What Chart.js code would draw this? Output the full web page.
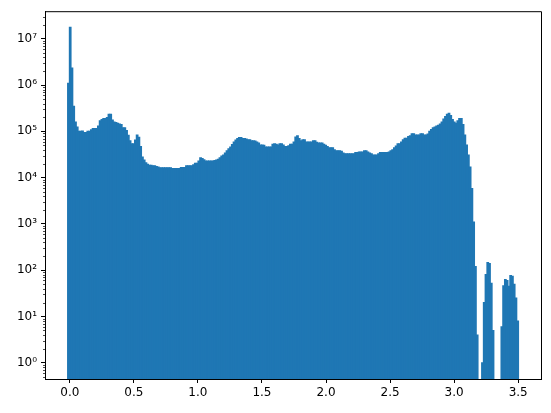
<!DOCTYPE html>
<html>
<head>
<meta charset="utf-8">
<script src="https://cdn.jsdelivr.net/npm/chart.js@4.4.0/dist/chart.umd.min.js"></script>
<style>
  html, body { margin: 0; padding: 0; background: #fff; }
  #wrap { width: 551px; height: 413px; }
</style>
</head>
<body>
<div id="wrap"><canvas id="histChart" width="551" height="413"></canvas></div>
<script>
// Histogram bins: left edge of the first bin and the bin width
const binStart = -0.0175;
const binWidth = 0.013752;

// Counts per bin (256 bins)
const counts = [
  1100000, 17800000, 2350000, 350000, 160000, 125000, 100000, 100000, 102000, 95000, 95000, 100000, 100000, 108000, 115000, 115000,
  115000, 130000, 170000, 180000, 190000, 190000, 200000, 235000, 235000, 175000, 160000, 155000, 150000, 145000, 140000, 120000,
  120000, 105000, 82000, 63000, 54000, 54000, 65000, 83000, 75000, 47000, 28000, 24000, 21000, 19500, 18500, 18500,
  18000, 18000, 17500, 17000, 16300, 16300, 16300, 16300, 16300, 16300, 16300, 15700, 15700, 15700, 15700, 15700,
  16500, 16500, 16500, 18000, 18000, 18000, 18000, 19000, 20500, 20500, 23000, 27000, 26000, 24500, 23000, 23000,
  23000, 23000, 23000, 23500, 24000, 25000, 27000, 29500, 31000, 34000, 38000, 42000, 46000, 52000, 59000, 65000,
  70000, 74000, 74000, 70000, 70000, 68000, 66000, 66000, 63000, 63000, 62000, 59000, 56000, 51000, 51000, 50000,
  46000, 46000, 46000, 46000, 53000, 54000, 53000, 51000, 54000, 54000, 51000, 47000, 47000, 49000, 53000, 53000,
  59000, 76000, 80000, 70000, 63000, 66000, 66000, 59000, 59000, 59000, 59000, 63000, 63000, 58000, 56000, 56000,
  56000, 53000, 50000, 47000, 44000, 44000, 44000, 40000, 38000, 38000, 38000, 37000, 34000, 33000, 33000, 33000,
  33000, 33000, 33000, 35000, 35000, 36000, 36000, 36000, 38000, 38000, 36000, 34000, 33000, 31000, 31000, 31000,
  33000, 35000, 35000, 35000, 35000, 35000, 36000, 38000, 40000, 44000, 48000, 54000, 54000, 59000, 66000, 71000,
  71000, 77000, 80000, 89000, 89000, 83000, 84000, 84000, 89000, 89000, 84000, 84000, 88000, 100000, 110000, 120000,
  125000, 130000, 135000, 145000, 160000, 185000, 210000, 235000, 245000, 220000, 180000, 160000, 150000, 170000, 190000, 190000,
  140000, 84000, 51000, 31000, 17000, 5800, 1100, 120, 4, 0, 0, 1, 20, 81, 147, 140,
  52, 5, 0, 0, 0, 0, 6, 46, 63, 60, 45, 77, 74, 50, 25, 8
];

const xTicks = [0, 0.5, 1, 1.5, 2, 2.5, 3, 3.5];
const yDecades = [0, 1, 2, 3, 4, 5, 6, 7];
const superDigits = ["\u2070", "\u00b9", "\u00b2", "\u00b3", "\u2074", "\u2075", "\u2076", "\u2077"];

const xMin = -0.1935, xMax = 3.678;
const yMin = 0.446, yMax = 3.95e7;

const points = counts.map((c, i) => ({ x: binStart + (i + 0.5) * binWidth, y: c > 0 ? c : null }));

// box around the axes + minor log ticks on the left
const framePlugin = {
  id: "frame",
  afterDraw(chart) {
    const { ctx, chartArea: a, scales } = chart;
    const y = scales.y;
    ctx.save();
    ctx.strokeStyle = "#000";
    ctx.lineWidth = 1;
    ctx.beginPath();
    ctx.moveTo(a.left + 0.5, a.top + 0.5);
    ctx.lineTo(a.right + 0.5, a.top + 0.5);
    ctx.lineTo(a.right + 0.5, a.bottom + 0.5);
    ctx.lineTo(a.left + 0.5, a.bottom + 0.5);
    ctx.closePath();
    ctx.stroke();

    ctx.lineWidth = 0.7;
    ctx.beginPath();
    for (let k = -1; k <= 7; k++) {
      for (let m = 2; m <= 9; m++) {
        const v = m * Math.pow(10, k);
        if (v < yMin || v > yMax) continue;
        const py = Math.round(y.getPixelForValue(v)) + 0.5;
        ctx.moveTo(a.left + 0.5, py);
        ctx.lineTo(a.left - 2, py);
      }
    }
    ctx.stroke();
    ctx.restore();
  }
};

const font = { family: "DejaVu Sans", size: 12 };

new Chart(document.getElementById("histChart").getContext("2d"), {
  type: "bar",
  data: {
    datasets: [{
      data: points,
      backgroundColor: "#1f77b4",
      borderWidth: 0,
      inflateAmount: 0.5,
      barPercentage: 1,
      categoryPercentage: 1
    }]
  },
  options: {
    responsive: false,
    animation: false,
    devicePixelRatio: 1,
    layout: { padding: { top: 10, right: 10, left: 0, bottom: 0 } },
    plugins: { legend: { display: false }, tooltip: { enabled: false } },
    scales: {
      x: {
        type: "linear",
        min: xMin,
        max: xMax,
        offset: false,
        grid: { offset: false, drawOnChartArea: false, tickLength: 4, tickColor: "#000", tickWidth: 1 },
        border: { color: "#000", width: 1 },
        afterBuildTicks: s => { s.ticks = xTicks.map(v => ({ value: v })); },
        afterFit: s => { s.height = 34; },
        ticks: {
          color: "#000", font, padding: 3, maxRotation: 0, autoSkip: false,
          callback: v => Number(v).toFixed(1)
        }
      },
      y: {
        type: "logarithmic",
        min: yMin,
        max: yMax,
        grid: { drawOnChartArea: false, tickLength: 4, tickColor: "#000", tickWidth: 1 },
        border: { color: "#000", width: 1 },
        afterBuildTicks: s => { s.ticks = yDecades.map(k => ({ value: Math.pow(10, k), major: true })); },
        afterFit: s => { s.width = 45; },
        ticks: {
          color: "#000", font, padding: 4, autoSkip: false,
          callback: v => "10" + superDigits[Math.round(Math.log10(v))]
        }
      }
    }
  },
  plugins: [framePlugin]
});
</script>
</body>
</html>
